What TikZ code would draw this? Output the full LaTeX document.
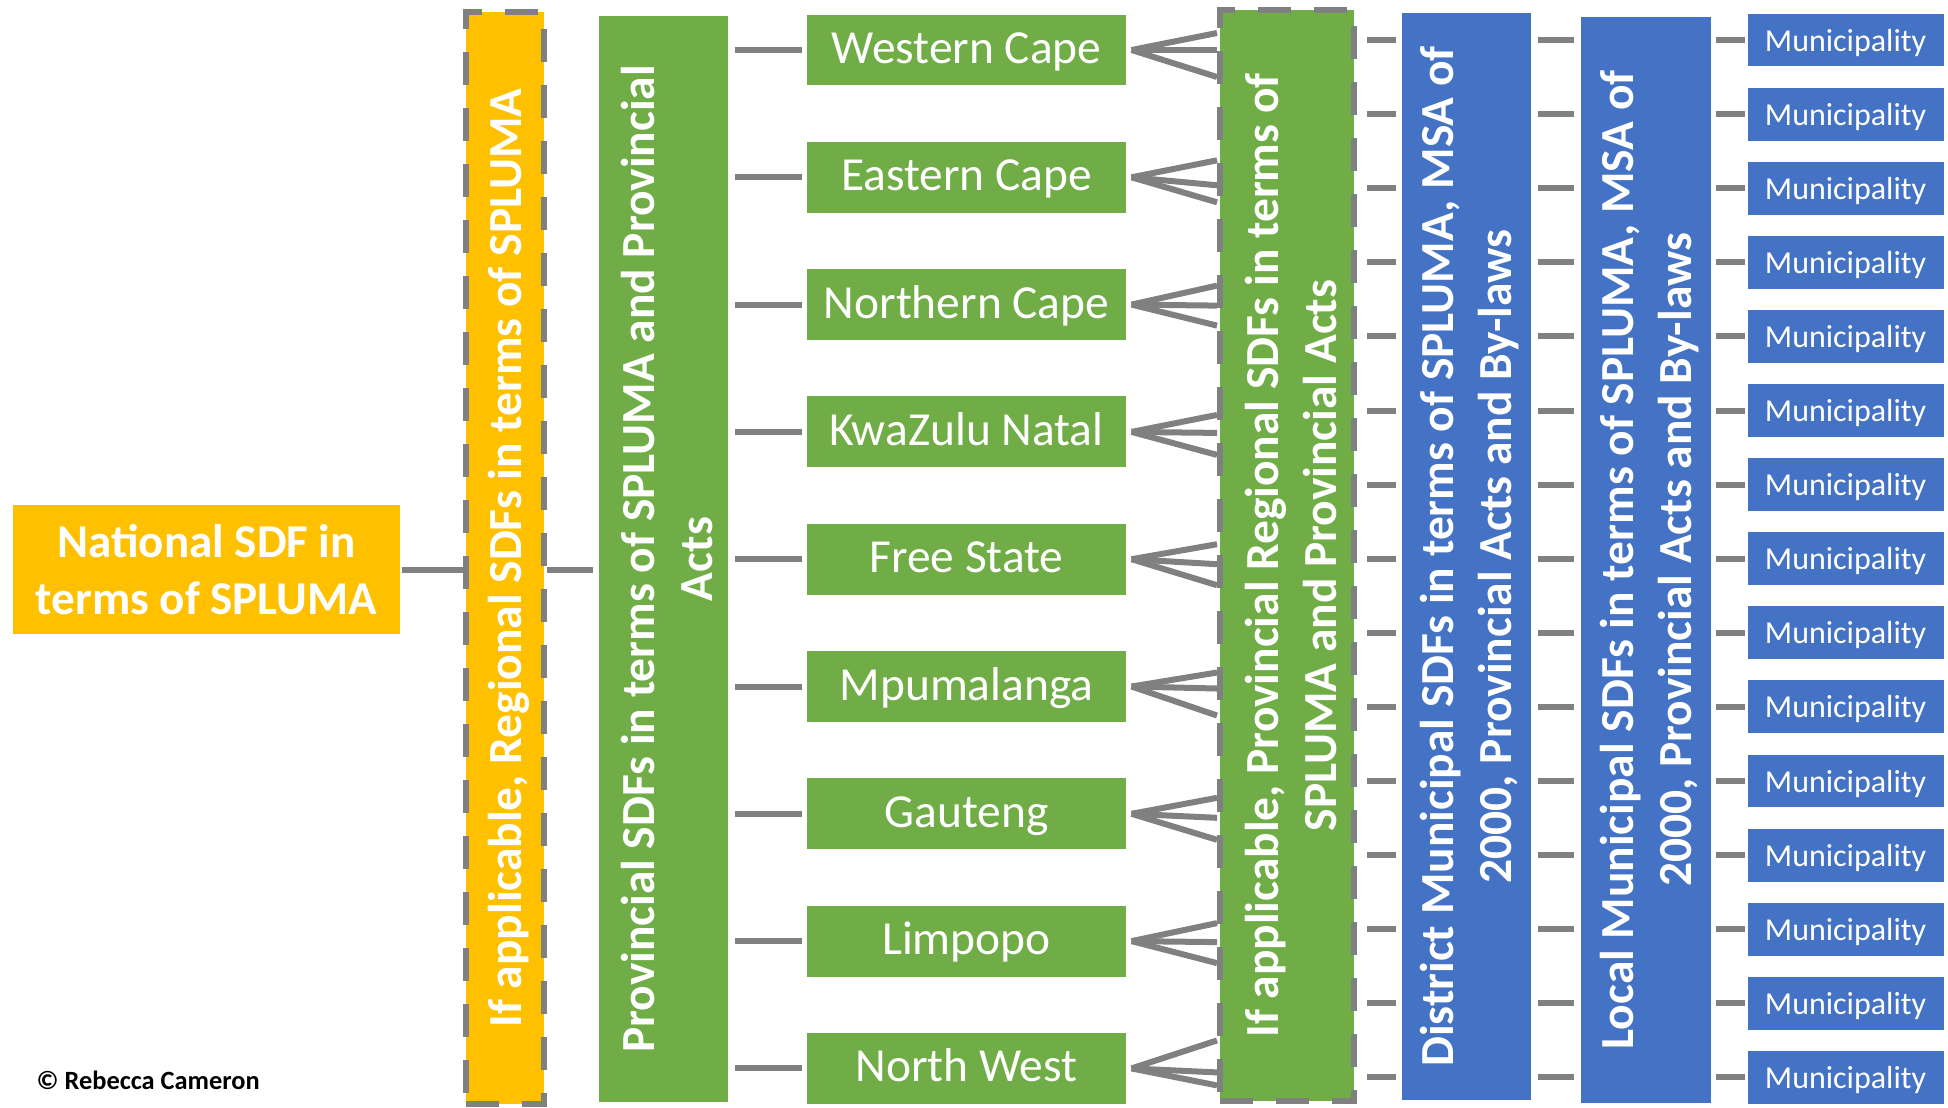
\documentclass[tikz,border=0pt]{standalone}
\usepackage{fontspec}
\setmainfont{Carlito}
\usetikzlibrary{calc}
\definecolor{sdfyellow}{HTML}{FFC000}
\definecolor{sdfgreen}{HTML}{70AD47}
\definecolor{sdfblue}{HTML}{4472C4}
\definecolor{linkgray}{HTML}{808080}
\tikzset{
  sdfbox/.style={draw=white, line width=0.3pt, text=white, inner sep=0pt},
  dashbox/.style={draw=linkgray, line width=0.6mm, dash pattern=on 3.3mm off 2.3mm},
  link/.style={draw=linkgray, line width=0.6mm},
  vtext/.style={rotate=90, text=white, font=\bfseries\fontsize{13.5}{16.5}\selectfont, align=center},
}
\begin{document}
\begin{tikzpicture}[x=0.1mm, y=-0.1mm]
\useasboundingbox (0,0) rectangle (1948,1107);

% national and regional
\node[sdfbox, align=center, fill=sdfyellow, minimum width=38.9mm, minimum height=13.1mm, font=\bfseries\fontsize{13.4}{16.2}\selectfont] (nat) at (206.5,569.5) {National SDF in\\terms of SPLUMA};
\node[sdfbox, fill=sdfyellow, dashbox, minimum width=7.8mm, minimum height=109.2mm] (reg) at (505,558) {};
\node[vtext] (regtxt) at ($(reg)+(4,0)$) {If applicable, Regional SDFs in terms of SPLUMA};

% provincial
\node[sdfbox, fill=sdfgreen, minimum width=13.1mm, minimum height=108.8mm] (prov) at (663.5,559) {};
\node[vtext] (provtxt) at ($(prov)+(4,0)$) {Provincial SDFs in terms of SPLUMA and Provincial\\Acts};
\node[sdfbox, fill=sdfgreen, dashbox, minimum width=13.4mm, minimum height=109.1mm] (prsdf) at (1287,555.5) {};
\node[vtext] (prsdftxt) at ($(prsdf)+(4,0)$) {If applicable, Provincial Regional SDFs in terms of\\SPLUMA and Provincial Acts};

% municipal
\node[sdfbox, fill=sdfblue, minimum width=13mm, minimum height=108.9mm] (dist) at (1466,556.5) {};
\node[vtext] (disttxt) at ($(dist)+(4,0)$) {District Municipal SDFs in terms of SPLUMA, MSA of\\2000, Provincial Acts and By-laws};
\node[sdfbox, fill=sdfblue, minimum width=13.1mm, minimum height=108.8mm] (loc) at (1645.5,560) {};
\node[vtext] (loctxt) at ($(loc)+(4,0)$) {Local Municipal SDFs in terms of SPLUMA, MSA of\\2000, Provincial Acts and By-laws};

\draw[link] (nat.east) -- (reg.west |- nat.east);
\draw[link, shorten >=0.4mm] (reg.east |- nat.east) -- (prov.west |- nat.east);

% provinces
\foreach \name/\a/\b/\c [count=\i from 0] in {Western Cape/-17/0/27, Eastern Cape/-17/8/25, Northern Cape/-19/1/21, KwaZulu Natal/-17/1/23, Free State/-15/5/26, Mpumalanga/-14/2/29, Gauteng/-16/4/26, Limpopo/-18/1/22, North West/-28/4/17}
{
  \node[sdfbox, font=\fontsize{13.5}{16}\selectfont, text height=3.5mm, text depth=0.8mm, fill=sdfgreen, minimum width=32.1mm, minimum height=7.2mm] (p\i) at (966.5,{50+127.3*\i}) {\name};
  \draw[link, shorten <=0.5mm, shorten >=0.3mm] (prov.east |- p\i.west) -- (p\i.west);
  \draw[link] ($(p\i.east)+(4,0)$) -- ($(prsdf.west |- p\i.east)+(0,\a)$);
  \draw[link] ($(p\i.east)+(4,0)$) -- ($(prsdf.west |- p\i.east)+(0,\b)$);
  \draw[link] ($(p\i.east)+(4,0)$) -- ($(prsdf.west |- p\i.east)+(0,\c)$);
}

% municipalities
\foreach \i in {0,...,14}
{
  \node[sdfbox, font=\fontsize{9.1}{11}\selectfont, text height=2.7mm, text depth=0.5mm, fill=sdfblue, minimum width=19.7mm, minimum height=5.4mm] (m\i) at (1845.5,{40+74.1*\i}) {Municipality};
  \draw[link, shorten <=1mm, shorten >=0.5mm] (prsdf.east |- m\i) -- (dist.west |- m\i);
  \draw[link, shorten <=0.6mm, shorten >=0.6mm] (dist.east |- m\i) -- (loc.west |- m\i);
  \draw[link, shorten <=0.4mm, shorten >=0.2mm] (loc.east |- m\i) -- (m\i.west);
}

\node[anchor=west, inner sep=0pt, font=\bfseries\fontsize{7.5}{9}\selectfont] (copy) at (36,1080) {© Rebecca Cameron};
\end{tikzpicture}
\end{document}
